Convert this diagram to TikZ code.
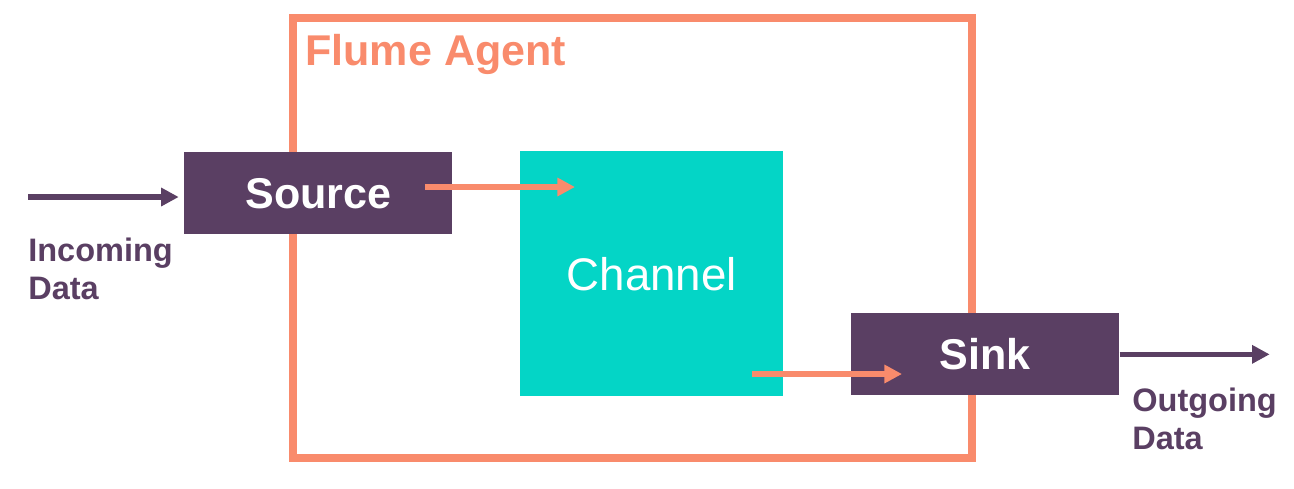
\documentclass[tikz,border=0pt]{standalone}
\usepackage{fontspec}
\setmainfont{Liberation Sans}
\usetikzlibrary{arrows.meta}
\definecolor{agentorange}{HTML}{F98B6C}
\definecolor{boxpurple}{HTML}{5A3F63}
\definecolor{chanteal}{HTML}{04D5C6}
\tikzset{
  compbox/.style={fill=boxpurple,text=white,inner sep=0pt,anchor=north west,
    minimum width=5.36cm,minimum height=1.64cm,font=\fontsize{24.5}{28}\selectfont\bfseries},
  flow/.style={agentorange,line width=3pt,-{Triangle[length=10pt,width=10pt]}},
  dataflow/.style={boxpurple,line width=3pt,-{Triangle[length=10pt,width=10pt]}},
  datalabel/.style={text=boxpurple,align=left,inner sep=0pt,
    font=\fontsize{18.5}{21.5}\selectfont\bfseries}
}
\begin{document}
\begin{tikzpicture}[x=0.02cm,y=-0.02cm]
\useasboundingbox (0,0) rectangle (1294,488);
% agent frame
\draw[agentorange,line width=4.5pt] (293,18) rectangle (972,458);
\node[anchor=base west,inner sep=0pt,text=agentorange,font=\fontsize{24.5}{28}\selectfont\bfseries] (agent) at (305,65) {Flume Agent};
% components
\node[fill=chanteal,text=white,inner sep=0pt,anchor=north west,minimum width=5.26cm,minimum height=4.9cm,
  font=\fontsize{26}{30}\selectfont] (chan) at (520,151) {Channel};
\node[compbox] (src) at (184,152) {Source};
\node[compbox] (snk) at (851,313) {Sink};
% arrows
\coordinate (inpt) at (28,197);
\coordinate (srcout) at (425,187);
\coordinate (chanin) at (575,187);
\coordinate (chanout) at (752,374);
\coordinate (sinkin) at (902,374);
\draw[dataflow,shorten >=3pt] (inpt) -- (inpt -| src.west);
\draw[flow] (srcout) -- (chanin);
\draw[flow] (chanout) -- (sinkin);
\draw[dataflow] (snk.east) -- ++(150,0) coordinate (outpt);
% labels
\node[datalabel,anchor=north west] (inlbl) at (28,238) {Incoming\\Data};
\node[datalabel,anchor=north west] (outlbl) at (1132,388) {Outgoing\\Data};
\end{tikzpicture}
\end{document}
